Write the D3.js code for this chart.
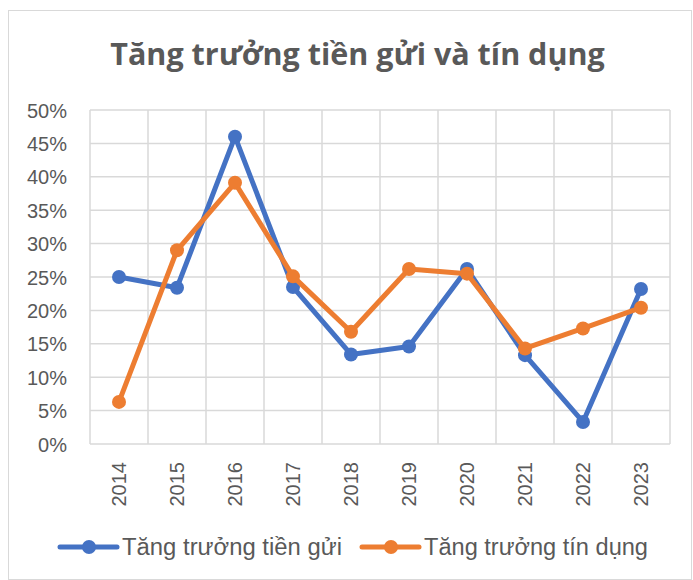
<!DOCTYPE html>
<html>
<head>
<meta charset="utf-8">
<script src="https://d3js.org/d3.v7.min.js"></script>
<style>
    body { margin: 0; background: #fff; }
    .y-axis text, .x-axis text { fill: #595959; font-size: 20px; font-family: "Liberation Sans", Arial, sans-serif; }
    .title { fill: #595959; font-size: 30.5px; font-weight: bold; font-family: "Open Sans", "Noto Sans", sans-serif; }
    .legend text { fill: #595959; font-size: 23px; font-family: "Liberation Sans", Arial, sans-serif; }
</style>
</head>
<body>
<div id="chart"></div>
<script>
    let years = ["2014", "2015", "2016", "2017", "2018", "2019", "2020", "2021", "2022", "2023"];
    let deposits = [25.0, 23.4, 46.0, 23.5, 13.4, 14.6, 26.2, 13.3, 3.3, 23.2];
    let credit = [6.3, 29.0, 39.1, 25.1, 16.8, 26.2, 25.5, 14.3, 17.3, 20.4];
    let yTicks = [0, 5, 10, 15, 20, 25, 30, 35, 40, 45, 50];
    let seriesNames = ["Tăng trưởng tiền gửi", "Tăng trưởng tín dụng"];
    let colors = ["#4472C4", "#ED7D31"];

    let W = 693, H = 580;
    let margin = {top: 110, right: 23, bottom: 136, left: 90},
        width = W - margin.left - margin.right,
        height = H - margin.top - margin.bottom;

    let svg = d3.select("#chart").append("svg")
        .attr("width", W)
        .attr("height", H);

    // chart frame
    svg.append("rect")
        .attr("x", 8.5).attr("y", 10.5)
        .attr("width", W - 10).attr("height", H - 11)
        .attr("fill", "#fff")
        .attr("stroke", "#d9d9d9");

    svg.append("text")
        .attr("class", "title")
        .attr("x", 357.5).attr("y", 65)
        .attr("text-anchor", "middle")
        .text("Tăng trưởng tiền gửi và tín dụng");

    let x = d3.scaleBand().domain(years).range([0, width]);
    let y = d3.scaleLinear().domain([0, 50]).range([height, 0]);

    let g = svg.append("g").attr("transform", "translate(" + margin.left + "," + margin.top + ")");

    // grid
    g.selectAll(".hgrid").data(yTicks).enter().append("line")
        .attr("x1", 0).attr("x2", width)
        .attr("y1", d => y(d)).attr("y2", d => y(d))
        .attr("stroke", "#d9d9d9").attr("stroke-width", 1.5);
    let vlines = years.map(d => x(d)).concat([width]);
    g.selectAll(".vgrid").data(vlines).enter().append("line")
        .attr("x1", d => d).attr("x2", d => d)
        .attr("y1", 0).attr("y2", height)
        .attr("stroke", "#d9d9d9").attr("stroke-width", 1.5);

    let yAxis = d3.axisLeft(y).tickValues(yTicks).tickSize(0).tickPadding(23)
        .tickFormat(d => d + "%");
    g.append("g").attr("class", "y-axis").call(yAxis)
        .call(s => s.select(".domain").remove())
        .selectAll("text").attr("dy", "0.35em");

    let xAxis = d3.axisBottom(x).tickSize(0);
    g.append("g").attr("class", "x-axis")
        .attr("transform", "translate(0," + height + ")")
        .call(xAxis)
        .call(s => s.select(".domain").remove())
        .selectAll("text")
        .attr("transform", "rotate(-90)")
        .attr("x", -18).attr("y", 0).attr("dy", "0.36em")
        .style("text-anchor", "end");

    let line = d3.line()
        .x((d, i) => x(years[i]) + x.bandwidth() / 2)
        .y(d => y(d));

    [deposits, credit].forEach(function(series, k) {
        g.append("path").datum(series)
            .attr("fill", "none")
            .attr("stroke", colors[k])
            .attr("stroke-width", 5)
            .attr("stroke-linejoin", "round")
            .attr("d", line);
        g.selectAll(".dot" + k).data(series).enter().append("circle")
            .attr("cx", (d, i) => x(years[i]) + x.bandwidth() / 2)
            .attr("cy", d => y(d))
            .attr("r", 7)
            .attr("fill", colors[k]);
    });

    // legend
    let legendX = [60, 362];
    let legendW = [220, 224];
    let legend = svg.append("g").attr("class", "legend");
    seriesNames.forEach(function(name, k) {
        let lg = legend.append("g").attr("transform", "translate(" + legendX[k] + ",547)");
        lg.append("line").attr("x1", 0).attr("x2", 57).attr("y1", 0).attr("y2", 0)
            .attr("stroke", colors[k]).attr("stroke-width", 5).attr("stroke-linecap", "round");
        lg.append("circle").attr("cx", 29).attr("cy", 0).attr("r", 7).attr("fill", colors[k]);
        lg.append("text").attr("x", 62).attr("y", 0).attr("dy", "0.35em")
            .attr("textLength", legendW[k]).attr("lengthAdjust", "spacingAndGlyphs")
            .text(name);
    });
</script>
</body>
</html>
